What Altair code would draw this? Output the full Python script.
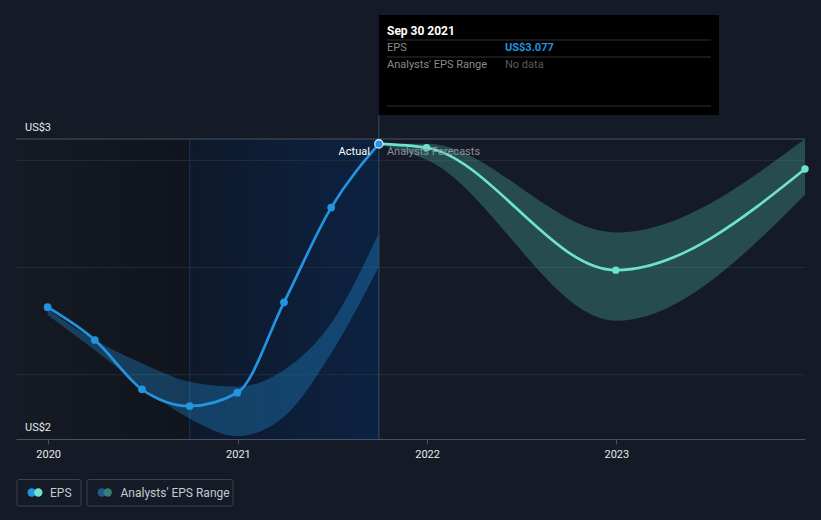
import altair as alt
import pandas as pd

# ---------------- data ----------------
actual_dates = ["2019-12-31", "2020-03-31", "2020-06-30", "2020-09-30",
                "2020-12-31", "2021-03-31", "2021-06-30", "2021-09-30"]
actual_eps = [2.315, 2.162, 1.932, 1.854, 1.916, 2.338, 2.780, 3.077]
past_range_low = [2.279, 2.115, 1.944, 1.796, 1.713, 1.804, 2.100, 2.505]
past_range_high = [2.307, 2.162, 2.053, 1.967, 1.944, 2.022, 2.240, 2.661]

forecast_dates = ["2021-09-30", "2021-12-31", "2022-12-31", "2023-12-31"]
forecast_eps = [3.077, 3.059, 2.488, 2.960]
forecast_low = [3.077, 3.003, 2.252, 2.840]
forecast_high = [3.077, 3.078, 2.664, 3.100]

grid_values = [2.0, 2.5, 3.0]
y_label_values = [3.10, 1.70]
y_label_texts = ["US$3", "US$2"]
year_ticks = [2020, 2021, 2022, 2023]

region_dark = ["2019-10-31", "2020-09-30"]
region_blue = ["2020-09-30", "2021-09-30"]
hover_date = "2021-09-30"

tooltip_title = "Sep 30 2021"
tooltip_rows = ["EPS", "Analysts' EPS Range"]
tooltip_vals = ["US$3.077", "No data"]

# ---------------- style ----------------
BG = "#151b26"
BLUE = "#2394df"
TEAL = "#6de3cc"
FONT = "Roboto"
W, H = 789, 300


def loc(d):
    return d + "T00:00:00"


actual_df = pd.DataFrame({"date": [loc(d) for d in actual_dates], "eps": actual_eps,
                          "lo": past_range_low, "hi": past_range_high})
fc_df = pd.DataFrame({"date": [loc(d) for d in forecast_dates], "eps": forecast_eps,
                      "lo": forecast_low, "hi": forecast_high})
one = pd.DataFrame({"a": [0]})

xscale = alt.Scale(domain=[alt.DateTime(year=2019, month=10, date=31),
                           alt.DateTime(year=2023, month=12, date=31)])
yscale = alt.Scale(domain=[1.70, 3.10], zero=False, nice=False)

X = alt.X("date:T", scale=xscale, title=None,
          axis=alt.Axis(values=[alt.DateTime(year=y, month=1, date=1) for y in year_ticks],
                        format="%Y", grid=False, domainColor="#4b515c", tickColor="#4b515c",
                        tickSize=5, labelColor="#e8e8e8", labelFont=FONT, labelFontSize=11,
                        labelPadding=4))
Y = alt.Y("eps:Q", scale=yscale, title=None, axis=None)

# background regions
reg_df = pd.DataFrame({"start": [loc(region_dark[0]), loc(region_blue[0])],
                       "end": [loc(region_dark[1]), loc(region_blue[1])],
                       "kind": ["dark", "blue"]})
dark_rect = alt.Chart(reg_df[reg_df.kind == "dark"]).mark_rect(
    color=alt.Gradient(gradient="linear", x1=0, x2=1, y1=0, y2=0,
                       stops=[alt.GradientStop(color="#151a24", offset=0),
                              alt.GradientStop(color="#10141c", offset=1)])
).encode(x=alt.X("start:T", scale=xscale), x2="end:T")
blue_rect = alt.Chart(reg_df[reg_df.kind == "blue"]).mark_rect(
    color=alt.Gradient(gradient="linear", x1=0, x2=1, y1=0, y2=0,
                       stops=[alt.GradientStop(color="#0e192b", offset=0),
                              alt.GradientStop(color="#0c2242", offset=1)])
).encode(x=alt.X("start:T", scale=xscale), x2="end:T")
blue_edge = alt.Chart(reg_df[reg_df.kind == "blue"]).mark_rule(
    color="#1b3457", strokeWidth=1).encode(x=alt.X("start:T", scale=xscale))

grid = alt.Chart(pd.DataFrame({"v": grid_values})).mark_rule(
    color="#262c37", strokeWidth=1).encode(y=alt.Y("v:Q", scale=yscale, axis=None))
top_line = alt.Chart(pd.DataFrame({"v": [y_label_values[0]]})).mark_rule(
    color="#4b515c", strokeWidth=1).encode(y=alt.Y("v:Q", scale=yscale, axis=None))

past_band = alt.Chart(actual_df).mark_area(
    color=BLUE, opacity=0.32, interpolate="monotone").encode(
    x=X, y=alt.Y("lo:Q", scale=yscale, axis=None), y2="hi:Q")
fc_band = alt.Chart(fc_df).mark_area(
    color="#4fb3a3", opacity=0.32, interpolate="monotone").encode(
    x=X, y=alt.Y("lo:Q", scale=yscale, axis=None), y2="hi:Q")

hover_df = pd.DataFrame({"date": [loc(hover_date)]})
hover_line = alt.Chart(hover_df).mark_rule(color="#2c4d75", strokeWidth=1).encode(
    x=alt.X("date:T", scale=xscale), y=alt.value(-24), y2=alt.value(H))

actual_line = alt.Chart(actual_df).mark_line(
    color=BLUE, strokeWidth=2.7, interpolate="monotone").encode(x=X, y=Y)
fc_line = alt.Chart(fc_df).mark_line(
    color=TEAL, strokeWidth=2.7, interpolate="monotone").encode(x=X, y=Y)
actual_pts = alt.Chart(actual_df.iloc[:-1]).mark_circle(
    color=BLUE, size=60, opacity=1).encode(x=X, y=Y)
fc_pts = alt.Chart(fc_df.iloc[1:]).mark_circle(
    color=TEAL, size=55, opacity=1).encode(x=X, y=Y)
last_pt = alt.Chart(actual_df.iloc[-1:]).mark_point(
    filled=True, fill=BLUE, stroke="#cfe6ff", strokeWidth=1.3, size=70, opacity=1
).encode(x=X, y=Y)

actual_txt = alt.Chart(hover_df).mark_text(
    text="Actual", align="right", baseline="middle", dx=-9, color="#ffffff",
    font=FONT, fontSize=11).encode(x=alt.X("date:T", scale=xscale), y=alt.value(12.5))
fc_txt = alt.Chart(hover_df).mark_text(
    text="Analysts Forecasts", align="left", baseline="middle", dx=8, color="#8c9099",
    font=FONT, fontSize=11).encode(x=alt.X("date:T", scale=xscale), y=alt.value(12.5))

ylab = alt.Chart(pd.DataFrame({"v": y_label_values, "t": y_label_texts})).mark_text(
    align="left", baseline="alphabetic", dy=-8, color="#e8e8e8", font=FONT, fontSize=11
).encode(x=alt.value(9), y=alt.Y("v:Q", scale=yscale, axis=None), text="t:N")

# tooltip box
tip_box = alt.Chart(hover_df).mark_rect(color="#000000").encode(
    x=alt.X("date:T", scale=xscale), x2=alt.value(703), y=alt.value(-124), y2=alt.value(-24))
tip_lines = alt.Chart(pd.DataFrame({"yy": [-99, -82, -33]})).mark_rule(
    color="#333333", strokeWidth=1).encode(
    x=alt.value(371), x2=alt.value(695), y=alt.Y("yy:Q", scale=None))
tip_title = alt.Chart(one).mark_text(
    text=tooltip_title, align="left", baseline="middle", color="#ffffff", font=FONT,
    fontSize=12, fontWeight="bold").encode(x=alt.value(371), y=alt.value(-108))
tip_rows = alt.Chart(pd.DataFrame({"t": tooltip_rows, "yy": [-91, -74]})).mark_text(
    align="left", baseline="middle", color="#8a8a8a", font=FONT, fontSize=11).encode(
    x=alt.value(371), y=alt.Y("yy:Q", scale=None), text="t:N")
tip_v1 = alt.Chart(one).mark_text(
    text=tooltip_vals[0], align="left", baseline="middle", color=BLUE, font=FONT,
    fontSize=11, fontWeight="bold").encode(x=alt.value(489), y=alt.value(-91))
tip_v2 = alt.Chart(one).mark_text(
    text=tooltip_vals[1], align="left", baseline="middle", color="#5c5c5c", font=FONT,
    fontSize=11).encode(x=alt.value(489), y=alt.value(-74))

# legend
leg_boxes = alt.Chart(pd.DataFrame({"x0": [1, 71], "x1": [65, 217]})).mark_rect(
    fill=BG, stroke="#3d424c", strokeWidth=1, cornerRadius=2).encode(
    x=alt.X("x0:Q", scale=None), x2="x1:Q", y=alt.value(340.5), y2=alt.value(367))
leg_dots = alt.Chart(pd.DataFrame({"xx": [15.7, 22.3, 85.7, 91.7],
                                   "c": [BLUE, TEAL, "#1f5a8a", "#3a7d78"]})).mark_circle(
    size=70, opacity=1).encode(x=alt.X("xx:Q", scale=None), y=alt.value(353.5),
                              color=alt.Color("c:N", scale=None))
leg_txt = alt.Chart(pd.DataFrame({"xx": [34, 104.5], "t": ["EPS", "Analysts' EPS Range"]})).mark_text(
    align="left", baseline="middle", color="#c6c9cf", font=FONT, fontSize=12).encode(
    x=alt.X("xx:Q", scale=None), y=alt.value(353.5), text="t:N")

chart = alt.layer(
    dark_rect, blue_rect, blue_edge, grid, top_line, past_band, fc_band, hover_line,
    actual_line, fc_line, actual_pts, fc_pts, last_pt, actual_txt, fc_txt, ylab,
    tip_box, tip_lines, tip_title, tip_rows, tip_v1, tip_v2,
    leg_boxes, leg_dots, leg_txt
).properties(
    width=W, height=H, background=BG,
    padding={"left": 8, "top": 131, "right": 8, "bottom": 70},
    autosize=alt.AutoSizeParams(type="none")
).configure_view(stroke=None)

# make the page margin dark as well (page background matches the chart)
try:
    import altair.utils.html as _ah
    _orig_tpl = _ah.TEMPLATES["standard"]

    class _DarkPage:
        def render(self, *a, **k):
            html = _orig_tpl.render(*a, **k)
            return html.replace("<head>", "<head>\n<style>html,body{background:%s;}</style>" % BG, 1)

    _ah.TEMPLATES["standard"] = _DarkPage()
    chart.save("out.html", embed_options={"renderer": "svg", "actions": False})
except Exception:
    try:
        _ah.TEMPLATES["standard"] = _orig_tpl
    except Exception:
        pass
    chart.save("out.html", embed_options={"renderer": "svg", "actions": False})
